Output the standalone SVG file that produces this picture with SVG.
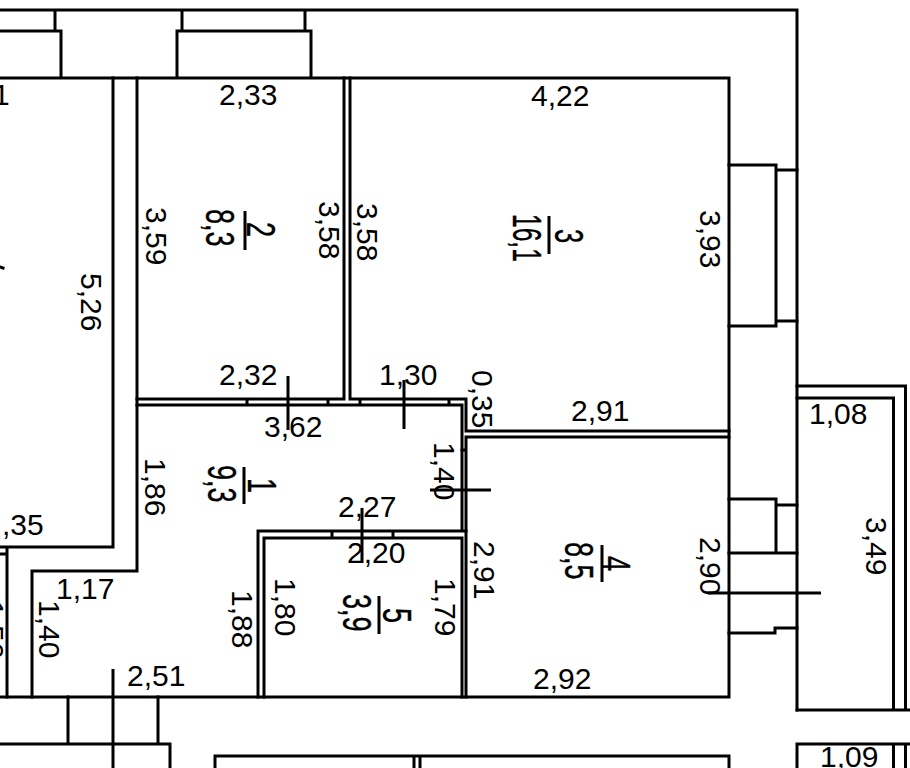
<svg xmlns="http://www.w3.org/2000/svg" width="910" height="768" viewBox="0 0 910 768">
<style>
.w{fill:none;stroke:#000;stroke-width:3;stroke-linecap:square}
.d{fill:none;stroke:#000;stroke-width:3}
text{font-family:"Liberation Sans",Arial,sans-serif;fill:#000}
.t{font-size:30px}
.a{font-size:41px;stroke:#000;stroke-width:.4px}
</style>
<rect width="910" height="768" fill="#fff"/>
<g id="walls">
<path class="w" d="M0 10H797V710M55 10V30M182 10V30M305 10V30M0 31H61V77M177 77V31H311V77M0 78H729V697M0 697H729"/>
<path class="w" d="M113 78V547H0M137 78V571H32V697M7 547V697M0 554H7"/>
<path class="w" d="M344 78V399H137M350 78V399H466V431H729M137 405H462V530M247 399V405M328 399V405M360 399V405M449 399V405"/>
<path class="w" d="M466 437H729M466 437V697M462 450H466"/>
<path class="w" d="M258 697V531H466M264 697V538H462V697M332 531V538M393 531V538"/>
<path class="w" d="M729 165H776V326H729M776 170H797M776 321H797"/>
<path class="w" d="M729 499H776V553M729 553H797M776 505H797M729 633H775V628H797"/>
<path class="w" d="M797 386H905.500V710M797 398H893.500V710M797 710H910"/>
<path class="w" d="M68 697V744M158 697V744M0 744H170V768M215 768V756H729V768M414 756V768M420 756V768M797 768V744H910M893.500 744V768M905.500 744V768"/>
<path class="w" d="M0 267L3 268"/>
</g>
<g id="connectors">
<path class="d" d="M288 376V430M404 380V429M362 508V563M430 490H491M708 593H821M113 669V768"/>
<path class="d" d="M245 211V250M549 216V254M244 467V504M602 545V582M379 596V634"/>
</g>
<g id="room-1"><text class="a" transform="translate(208 465) rotate(90) scale(.66 1)">9,3</text><text class="a" transform="translate(248 478) rotate(90) scale(.66 1)">1</text>
<text class="t" x="264" y="437">3,62</text><text class="t" transform="translate(145 458) rotate(90)">1,86</text><text class="t" x="56" y="599">1,17</text><text class="t" transform="translate(39 600) rotate(90)">1,40</text><text class="t" transform="translate(232 590) rotate(90)">1,88</text><text class="t" x="127" y="686">2,51</text><text class="t" x="338" y="517">2,27</text></g>
<g id="room-2"><text class="a" transform="translate(206 209) rotate(90) scale(.66 1)">8,3</text><text class="a" transform="translate(247 222) rotate(90) scale(.66 1)">2</text>
<text class="t" x="219" y="105">2,33</text><text class="t" x="219" y="385">2,32</text><text class="t" transform="translate(146 207) rotate(90)">3,59</text><text class="t" transform="translate(319 201) rotate(90)">3,58</text></g>
<g id="room-3"><text class="a" transform="translate(513 214) rotate(90) scale(.6 1)">16,1</text><text class="a" transform="translate(555 229) rotate(90) scale(.62 1)">3</text>
<text class="t" x="531" y="106">4,22</text><text class="t" x="379" y="385">1,30</text><text class="t" transform="translate(357 203) rotate(90)">3,58</text><text class="t" transform="translate(700 210) rotate(90)">3,93</text><text class="t" transform="translate(472 370) rotate(90)">0,35</text><text class="t" x="571" y="421">2,91</text></g>
<g id="room-4"><text class="a" transform="translate(565 542) rotate(90) scale(.66 1)">8,5</text><text class="a" transform="translate(602 556) rotate(90) scale(.66 1)">4</text>
<text class="t" transform="translate(434 442) rotate(90)">1,40</text><text class="t" transform="translate(474 541) rotate(90)">2,91</text><text class="t" transform="translate(700 537) rotate(90)">2,90</text><text class="t" x="533" y="689">2,92</text></g>
<g id="room-5"><text class="a" transform="translate(343 594) rotate(90) scale(.66 1)">3,9</text><text class="a" transform="translate(383 608) rotate(90) scale(.66 1)">5</text>
<text class="t" x="347" y="563">2,20</text><text class="t" transform="translate(275 578) rotate(90)">1,80</text><text class="t" transform="translate(435 578) rotate(90)">1,79</text></g>
<g id="room-edge"><text class="t" x="-7" y="105">1</text><text class="t" x="2" y="535">,35</text><text class="t" transform="translate(81 273) rotate(90)">5,26</text><text class="t" transform="translate(-17 600) rotate(90)">1,56</text></g>
<g id="rooms-right"><text class="t" x="809" y="424">1,08</text><text class="t" transform="translate(866 517) rotate(90)">3,49</text><text class="t" x="820" y="767">1,09</text></g>
</svg>
